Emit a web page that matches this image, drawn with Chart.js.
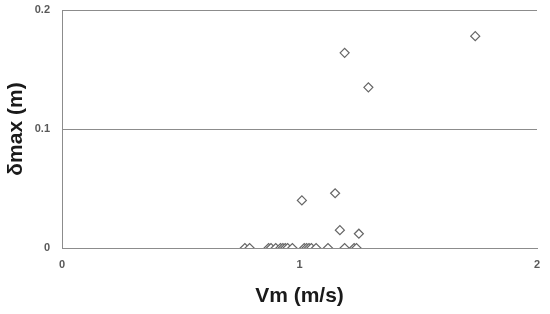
<!DOCTYPE html>
<html>
<head>
<meta charset="utf-8">
<script src="https://cdn.jsdelivr.net/npm/chart.js@4"></script>
<style>
  html, body { margin: 0; padding: 0; background: #fff; }
  #wrap { width: 550px; height: 314px; }
</style>
</head>
<body>
<div id="wrap"><canvas id="scatter" width="550" height="314"></canvas></div>
<script>
// Vm (m/s) and δmax (m)
const vm = [0.77, 0.79, 0.87, 0.88, 0.90, 0.92, 0.93, 0.94, 0.95, 0.97,
            1.02, 1.03, 1.04, 1.05, 1.07, 1.12, 1.19, 1.23, 1.24,
            1.01, 1.15, 1.17, 1.19, 1.25, 1.29, 1.74];
const deltaMax = [0, 0, 0, 0, 0, 0, 0, 0, 0, 0,
                  0, 0, 0, 0, 0, 0, 0, 0, 0,
                  0.040, 0.046, 0.015, 0.164, 0.012, 0.135, 0.178];
const xTicks = [0, 1, 2];
const yTicks = [0, 0.1, 0.2];

const points = vm.map((v, i) => ({ x: v, y: deltaMax[i] }));

const tickFont = { family: 'Liberation Sans, Arial, sans-serif', size: 11, weight: 'bold' };
const titleFont = { family: 'Liberation Sans, Arial, sans-serif', size: 21, weight: 'bold' };

new Chart(document.getElementById('scatter').getContext('2d'), {
    type: 'scatter',
    data: {
        datasets: [{
            data: points,
            pointStyle: 'rectRot',
            pointRadius: 4.5,
            pointBorderWidth: 1.2,
            borderColor: '#666666',
            backgroundColor: '#ffffff'
        }]
    },
    options: {
        responsive: false,
        animation: false,
        layout: { padding: { top: 10, right: 13, left: 0, bottom: 0 } },
        plugins: { legend: { display: false }, tooltip: { enabled: false } },
        scales: {
            x: {
                type: 'linear',
                min: 0,
                max: 2,
                afterBuildTicks: s => { s.ticks = xTicks.map(v => ({ value: v })); },
                afterFit: s => { s.height = 66; s.paddingLeft = 0; s.paddingRight = 0; },
                grid: { display: false, drawTicks: false },
                border: { display: true, color: '#8c8c8c', width: 1 },
                ticks: { padding: 10, color: '#595959', font: tickFont, maxRotation: 0 },
                title: {
                    display: true,
                    text: 'Vm (m/s)',
                    color: '#1a1a1a',
                    font: titleFont,
                    padding: { top: 0, bottom: 5 }
                }
            },
            y: {
                type: 'linear',
                min: 0,
                max: 0.2,
                afterBuildTicks: s => { s.ticks = yTicks.map(v => ({ value: v })); },
                afterFit: s => { s.width = 62; s.paddingTop = 0; s.paddingBottom = 0; },
                grid: { color: '#8c8c8c', lineWidth: 1, drawTicks: false },
                border: { display: true, color: '#8c8c8c', width: 1 },
                ticks: {
                    padding: 12,
                    color: '#595959',
                    font: tickFont,
                    callback: v => String(v)
                },
                title: {
                    display: true,
                    text: 'δmax (m)',
                    color: '#1a1a1a',
                    font: titleFont,
                    padding: { top: 4, bottom: 0 }
                }
            }
        }
    }
});
</script>
</body>
</html>
